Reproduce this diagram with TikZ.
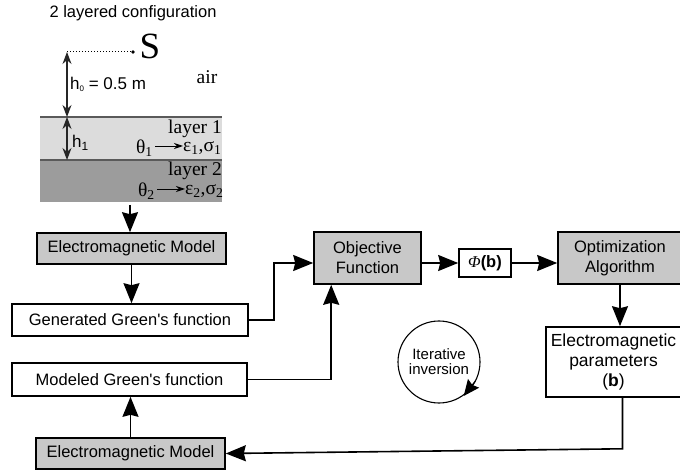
\documentclass[tikz,border=0pt]{standalone}
\usepackage{fontspec}
\setmainfont{Liberation Sans}
\newfontfamily\serifface{Liberation Serif}
\usetikzlibrary{arrows.meta,calc}
\definecolor{boxgray}{HTML}{C8C8C8}
\definecolor{layerone}{HTML}{DCDCDC}
\definecolor{layertwo}{HTML}{9C9C9C}
\definecolor{edgegray}{HTML}{5A5A5A}

\begin{document}
\begin{tikzpicture}[x=1pt,y=-1pt,
  txt/.style={inner sep=0pt, font=\fontsize{16.5}{20}\selectfont},
  box/.style={draw, line width=1.6pt, inner sep=0pt, align=center,
              font=\fontsize{16.5}{20}\selectfont},
  gbox/.style={box, fill=boxgray},
  arr/.style={line width=1.6pt, -{Stealth[length=20pt,width=16pt,inset=2pt]}},
  dim/.style={line width=1.1pt, draw=black!85,
              {Stealth[length=12pt,width=9pt]}-{Stealth[length=12pt,width=9pt]}},
  thin/.style={line width=0.9pt, -{Stealth[length=9pt,width=6pt]}},
  ser/.style={inner sep=0pt, font=\serifface\fontsize{19.5}{22}\selectfont}
]
\useasboundingbox (0,0) rectangle (680,470);

% ---- two-layer configuration ----
\node[txt] (title) at (133,13) {2 layered configuration};

\fill[layerone] (40,117) rectangle (222,160);
\fill[layertwo] (40,160) rectangle (222,202);
\draw[edgegray, line width=1.5pt] (40,117) -- (222,117);
\draw[edgegray, line width=1.5pt] (40,160) -- (222,160);

\coordinate (h0top) at (67,52);
\coordinate (l1top) at (67,117);
\coordinate (l1bot) at (67,160);
\node[circle, fill, inner sep=1.4pt] (sdot) at (133,52) {};
\draw[dotted, line width=1pt] (h0top) -- (sdot);
\node[inner sep=0pt, font=\serifface\fontsize{37}{37}\selectfont] (S) at (150,46.5) {S};
\node[ser] (air) at (207,77) {air};

\draw[dim] (h0top) -- (l1top);
\draw[dim] (l1top) -- (l1bot);
\node[txt, anchor=west, font=\fontsize{17}{19}\selectfont] (h0) at (70,84)
  {h\raisebox{-2pt}{\fontsize{8}{8}\selectfont 0} = 0.5 m};
\node[txt, anchor=west, font=\fontsize{17}{19}\selectfont] (h1) at (72,143) {h\textsubscript{1}};

\node[ser, anchor=east] (lay1) at (222,129) {layer 1};
\node[ser, anchor=east] (th1) at (153,148) {θ\textsubscript{1}};
\node[ser, anchor=west] (ep1) at (183,148) {ε\textsubscript{1},σ\textsubscript{1}};
\draw[thin] (th1.east) ++(2,-2) coordinate (a1) -- (a1 -| ep1.west);

\node[ser, anchor=east] (lay2) at (222,170.5) {layer 2};
\node[ser, anchor=east] (th2) at (155,191) {θ\textsubscript{2}};
\node[ser, anchor=west] (ep2) at (185,191) {ε\textsubscript{2},σ\textsubscript{2}};
\draw[thin] (th2.east) ++(2,-2) coordinate (a2) -- (a2 -| ep2.west);

\coordinate (laybot) at (130,205);

% ---- flow chart ----
\node[gbox, minimum width=189, minimum height=31] (em1) at (131.5,248.5) {Electromagnetic Model};
\node[box, minimum width=236, minimum height=32] (gen) at (130,320) {Generated Green\textquotesingle s function};
\node[box, minimum width=235, minimum height=33] (mod) at (129.5,379.5) {Modeled Green\textquotesingle s function};
\node[gbox, minimum width=189, minimum height=31] (em2) at (130.5,453.5) {Electromagnetic Model};
\node[gbox, minimum width=107, minimum height=52] (obj) at (367.5,258) {Objective\\Function};
\node[box, minimum width=52, minimum height=28] (phi) at (485,263) {{\serifface\itshape Φ}\textbf{(b)}};
\node[gbox, minimum width=124, minimum height=52] (opt) at (620,258) {Optimization\\Algorithm};
\node[box, minimum width=135, minimum height=70, font=\fontsize{17.5}{20}\selectfont] (par) at (613.5,362) {Electromagnetic\\parameters\\(\textbf{b})};
\node[circle, draw, line width=1.1pt, minimum size=82, inner sep=0pt, align=center,
      font=\fontsize{15}{15}\selectfont] (iter) at (439,362) {Iterative\\inversion};

\draw[arr] (laybot) -- (laybot |- em1.north);
\draw[arr] (em1.south) -- (em1.south |- gen.north);
\draw[arr] (gen.east) -- ++(25,0) |- (phi.west -| obj.west);
\draw[arr] (mod.east) -| ($(obj.south west)+(18,0)$);
\draw[arr] (phi.west -| obj.east) -- (phi.west);
\draw[arr] (phi.east) -- (phi.east -| opt.west);
\draw[arr] (opt.south) -- (opt.south |- par.north);
\draw[arr] ($(par.south)+(9,0)$) -- ++(0,51) -- (em2.east);
\draw[arr] (em2.north) -- (em2.north |- mod.south);
% clockwise arrowhead on the iteration circle
\draw[line width=1.1pt, -{Stealth[length=16pt,width=14pt,inset=2pt]}]
  ($(iter.center)+(28:41)$) -- ($(iter.center)+(54:42)$);
\end{tikzpicture}
\end{document}
